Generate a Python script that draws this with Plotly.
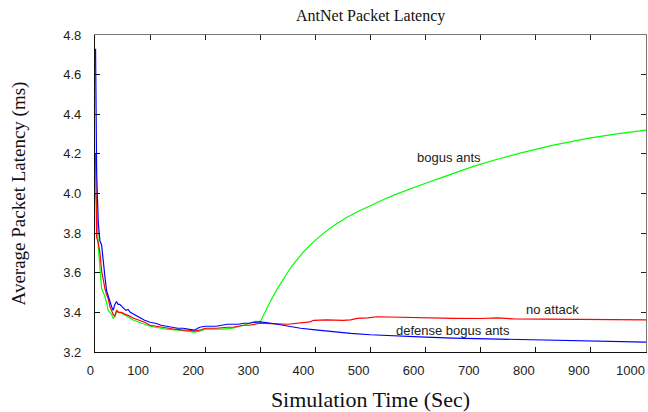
import plotly.graph_objects as go

# ---- data ----
blue_x = [1, 3, 6, 9, 12, 15, 18, 21, 24, 27, 30, 33, 36, 39, 42, 45, 48, 52, 56, 60, 64, 70, 80, 90,
          100, 110, 120, 130, 140, 150, 160, 170, 180, 190, 200, 210, 220, 230, 240, 250, 260, 270,
          280, 290, 300, 320, 345, 373, 400, 430, 464, 500, 550, 600, 650, 700, 750, 800, 850, 900,
          950, 1000]
blue_y = [4.73, 4.10, 3.85, 3.76, 3.74, 3.64, 3.58, 3.51, 3.48, 3.46, 3.43, 3.41, 3.44, 3.455, 3.44,
          3.44, 3.43, 3.42, 3.41, 3.415, 3.40, 3.39, 3.375, 3.36, 3.35, 3.345, 3.335, 3.33, 3.325,
          3.32, 3.32, 3.315, 3.31, 3.325, 3.33, 3.33, 3.33, 3.335, 3.34, 3.34, 3.34, 3.345, 3.345,
          3.35, 3.352, 3.345, 3.333, 3.32, 3.312, 3.303, 3.294, 3.287, 3.28, 3.275, 3.27, 3.267,
          3.263, 3.26, 3.257, 3.254, 3.252, 3.25]

red_x = [1, 3, 6, 9, 12, 15, 18, 21, 24, 27, 30, 33, 36, 39, 42, 48, 55, 60, 70, 80, 90, 100, 110,
         120, 130, 145, 160, 170, 180, 190, 200, 220, 240, 250, 270, 280, 300, 310, 330, 350, 373,
         390, 397, 420, 450, 464, 476, 495, 512, 540, 570, 600, 650, 700, 730, 760, 800, 850, 900,
         950, 1000]
red_y = [4.20, 3.78, 3.75, 3.70, 3.61, 3.56, 3.52, 3.49, 3.47, 3.43, 3.41, 3.39, 3.38, 3.41, 3.40,
         3.40, 3.39, 3.385, 3.37, 3.36, 3.35, 3.335, 3.33, 3.325, 3.32, 3.315, 3.31, 3.31, 3.305,
         3.31, 3.32, 3.32, 3.325, 3.325, 3.335, 3.335, 3.345, 3.345, 3.342, 3.34, 3.345, 3.352,
         3.36, 3.362, 3.36, 3.362, 3.37, 3.372, 3.378, 3.376, 3.372, 3.37, 3.37, 3.369, 3.372,
         3.367, 3.366, 3.365, 3.364, 3.364, 3.362]

green_x = [1, 3, 6, 9, 12, 15, 18, 21, 24, 27, 30, 33, 36, 40, 44, 48, 55, 60, 70, 80, 90, 100, 110,
           120, 130, 150, 170, 180, 190, 200, 230, 250, 270, 280, 290, 300, 310, 318, 330, 342, 355,
           367, 380, 397, 415, 433, 455, 476, 500, 524, 548, 573, 600, 625, 655, 688, 730, 773, 830,
           894, 950, 1000]
green_y = [4.00, 3.95, 3.73, 3.605, 3.52, 3.50, 3.48, 3.45, 3.41, 3.40, 3.39, 3.37, 3.378, 3.41,
           3.40, 3.397, 3.385, 3.375, 3.36, 3.35, 3.34, 3.33, 3.325, 3.32, 3.315, 3.31, 3.305, 3.30,
           3.305, 3.315, 3.315, 3.32, 3.335, 3.345, 3.355, 3.353, 3.41, 3.454, 3.515, 3.57, 3.625,
           3.668, 3.71, 3.757, 3.80, 3.837, 3.876, 3.908, 3.94, 3.97, 3.998, 4.025, 4.052, 4.076,
           4.105, 4.138, 4.173, 4.205, 4.243, 4.278, 4.302, 4.32]

x_ticks = [0, 100, 200, 300, 400, 500, 600, 700, 800, 900, 1000]
y_ticks = [3.2, 3.4, 3.6, 3.8, 4.0, 4.2, 4.4, 4.6, 4.8]

labels = [("bogus ants", 642, 4.184), ("no attack", 830, 3.415), ("defense bogus ants", 650, 3.307)]

TICKFONT = dict(family="Liberation Sans, Arial", size=13, color="#222")
SERIF = "Liberation Serif, Times New Roman"

fig = go.Figure()
fig.add_trace(go.Scatter(x=green_x, y=green_y, mode="lines", line=dict(color="#00ff00", width=1.2),
                         name="bogus ants"))
fig.add_trace(go.Scatter(x=red_x, y=red_y, mode="lines", line=dict(color="#ff0000", width=1.2),
                         name="no attack"))
fig.add_trace(go.Scatter(x=blue_x, y=blue_y, mode="lines", line=dict(color="#0000ff", width=1.2),
                         name="defense bogus ants"))

for txt, lx, ly in labels:
    fig.add_annotation(x=lx, y=ly, text=txt, showarrow=False,
                       font=dict(family="Liberation Sans, Arial", size=13, color="#222"))

fig.update_layout(
    width=648, height=412,
    margin=dict(l=95, r=2, t=35, b=60, autoexpand=False),
    paper_bgcolor="white", plot_bgcolor="white",
    showlegend=False,
    title=dict(text="AntNet Packet Latency", x=0.572, xanchor="center", y=0.962, yanchor="middle",
               font=dict(family=SERIF, size=16, color="#111")),
    xaxis=dict(range=[0, 1000], tickvals=x_ticks, ticktext=[str(v) for v in x_ticks],
               showline=True, linecolor="#111", linewidth=1.2, ticks="inside", ticklen=5,
               tickcolor="#111", showgrid=False, zeroline=False, tickfont=TICKFONT,
               ticklabelposition="outside left",
               ticklabelstandoff=6, ticklabeloverflow="allow", automargin=False,
               title=dict(text="Simulation Time (Sec)", font=dict(family=SERIF, size=22, color="#111"),
                          standoff=14)),
    yaxis=dict(range=[3.2, 4.8], tickvals=y_ticks, ticktext=[f"{v:.1f}" for v in y_ticks],
               showline=True, linecolor="#111", linewidth=1.2, ticks="inside", ticklen=5,
               tickcolor="#111", showgrid=False, zeroline=False, tickfont=TICKFONT,
               ticklabelstandoff=10, automargin=False,
               title=dict(text="Average Packet Latency (ms)", font=dict(family=SERIF, size=19, color="#111"),
                          standoff=32)),
    xaxis2=dict(range=[0, 1000], overlaying="x", side="top", tickvals=x_ticks, showticklabels=False,
                showline=True, linecolor="#777", linewidth=1.2, ticks="inside", ticklen=5,
                tickcolor="#222", showgrid=False, zeroline=False, automargin=False),
    yaxis2=dict(range=[3.2, 4.8], overlaying="y", side="right", tickvals=y_ticks, showticklabels=False,
                showline=True, linecolor="#777", linewidth=1.2, ticks="inside", ticklen=5,
                tickcolor="#222", showgrid=False, zeroline=False, automargin=False),
)
# invisible helper trace so the mirrored frame axes are drawn
fig.add_trace(go.Scatter(x=[0], y=[3.2], xaxis="x2", yaxis="y2", mode="markers",
                         marker=dict(opacity=0), hoverinfo="skip", showlegend=False))

fig.write_html("out.html")
